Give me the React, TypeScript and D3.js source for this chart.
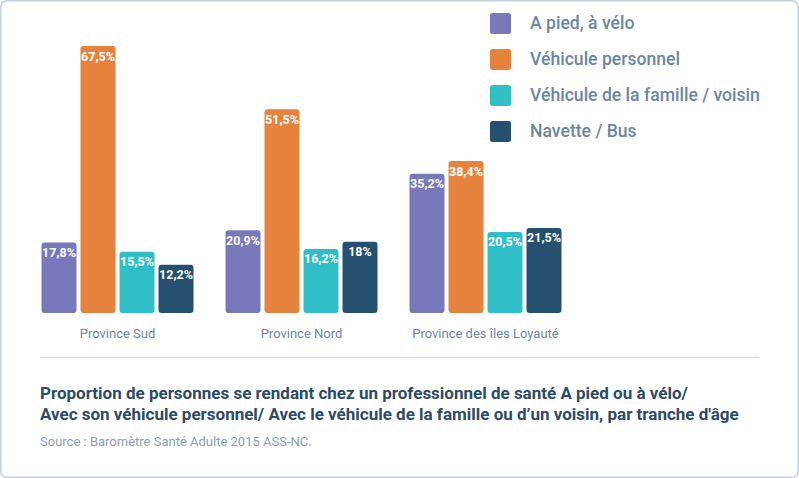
import React from "react";
import * as d3 from "d3";

const categories = ["Province Sud", "Province Nord", "Province des îles Loyauté"];
const seriesNames = ["A pied, à vélo", "Véhicule personnel", "Véhicule de la famille / voisin", "Navette / Bus"];
const seriesColors = ["#7878ba", "#e5833e", "#30bfc7", "#26506f"];
const aPied = [17.8, 20.9, 35.2];
const vehPerso = [67.5, 51.5, 38.4];
const vehFamille = [15.5, 16.2, 20.5];
const navette = [12.2, 18, 21.5];
const labels = [
  ["17,8%", "20,9%", "35,2%"],
  ["67,5%", "51,5%", "38,4%"],
  ["15,5%", "16,2%", "20,5%"],
  ["12,2%", "18%", "21,5%"],
];
const titleLines = [
  "Proportion de personnes se rendant chez un professionnel de santé A pied ou à vélo/",
  "Avec son véhicule personnel/ Avec le véhicule de la famille ou d\u2019un voisin, par tranche d'âge",
];
const sourceText = "Source : Baromètre Santé Adulte 2015 ASS-NC.";

const W = 799;
const H = 478;
const FONT = "Roboto, 'Noto Sans', sans-serif";

export default function App() {
  const series = [aPied, vehPerso, vehFamille, navette];
  const x0 = d3.scaleBand<string>().domain(categories).range([25.5, 577.5]).paddingInner(32 / 184).paddingOuter(16 / 184);
  const x1 = d3.scaleBand<string>().domain(seriesNames).range([0, x0.bandwidth()]).paddingInner(4 / 39).paddingOuter(0);
  const y = d3.scaleLinear().domain([0, 67.5]).range([313, 46]);

  const roundedTop = (x: number, yTop: number, w: number, h: number, r: number) => {
    const p = d3.path();
    p.moveTo(x, yTop + r);
    p.arcTo(x, yTop, x + r, yTop, r);
    p.lineTo(x + w - r, yTop);
    p.arcTo(x + w, yTop, x + w, yTop + r, r);
    p.lineTo(x + w, yTop + h - r);
    p.arcTo(x + w, yTop + h, x + w - r, yTop + h, r);
    p.lineTo(x + r, yTop + h);
    p.arcTo(x, yTop + h, x, yTop + h - r, r);
    p.closePath();
    return p.toString();
  };

  return (
    <svg width={W} height={H} style={{ position: "absolute", left: 0, top: 0, fontFamily: FONT }}>
      <rect x={0.75} y={0.75} width={W - 1.5} height={H - 1.5} rx={6} fill="#ffffff" stroke="#c3d0db" strokeWidth={1.5} />
      {categories.map((cat, ci) => (
        <g key={cat} transform={`translate(${x0(cat)},0)`}>
          {seriesNames.map((s, si) => {
            const v = series[si][ci];
            const bx = x1(s)!;
            const bw = x1.bandwidth();
            const top = y(v);
            return (
              <g key={s}>
                <path d={roundedTop(bx, top, bw, y(0) - top, 3)} fill={seriesColors[si]} />
                <text x={bx + bw / 2} y={top + 14.5} textAnchor="middle" fill="#ffffff" fontSize={12.5} fontWeight={700}>
                  {labels[si][ci]}
                </text>
              </g>
            );
          })}
          <text x={x0.bandwidth() / 2} y={338} textAnchor="middle" fill="#6d86a1" fontSize={13}>
            {cat}
          </text>
        </g>
      ))}
      {seriesNames.map((s, si) => (
        <g key={s} transform={`translate(490,${13 + si * 36})`}>
          <rect x={0} y={0} width={21} height={21} rx={2.5} fill={seriesColors[si]} />
          <text x={40} y={16} fill="#6a86a5" fontSize={17.6} fontWeight={500}>
            {s}
          </text>
        </g>
      ))}
      <line x1={40} x2={759} y1={357.5} y2={357.5} stroke="#d6dfe6" strokeWidth={1.5} />
      {titleLines.map((t, i) => (
        <text key={i} x={40} y={399 + i * 21} fill="#2c4b67" fontSize={17} fontWeight={700}>
          {t}
        </text>
      ))}
      <text x={40} y={446} fill="#8a9db2" fontSize={13}>
        {sourceText}
      </text>
    </svg>
  );
}
